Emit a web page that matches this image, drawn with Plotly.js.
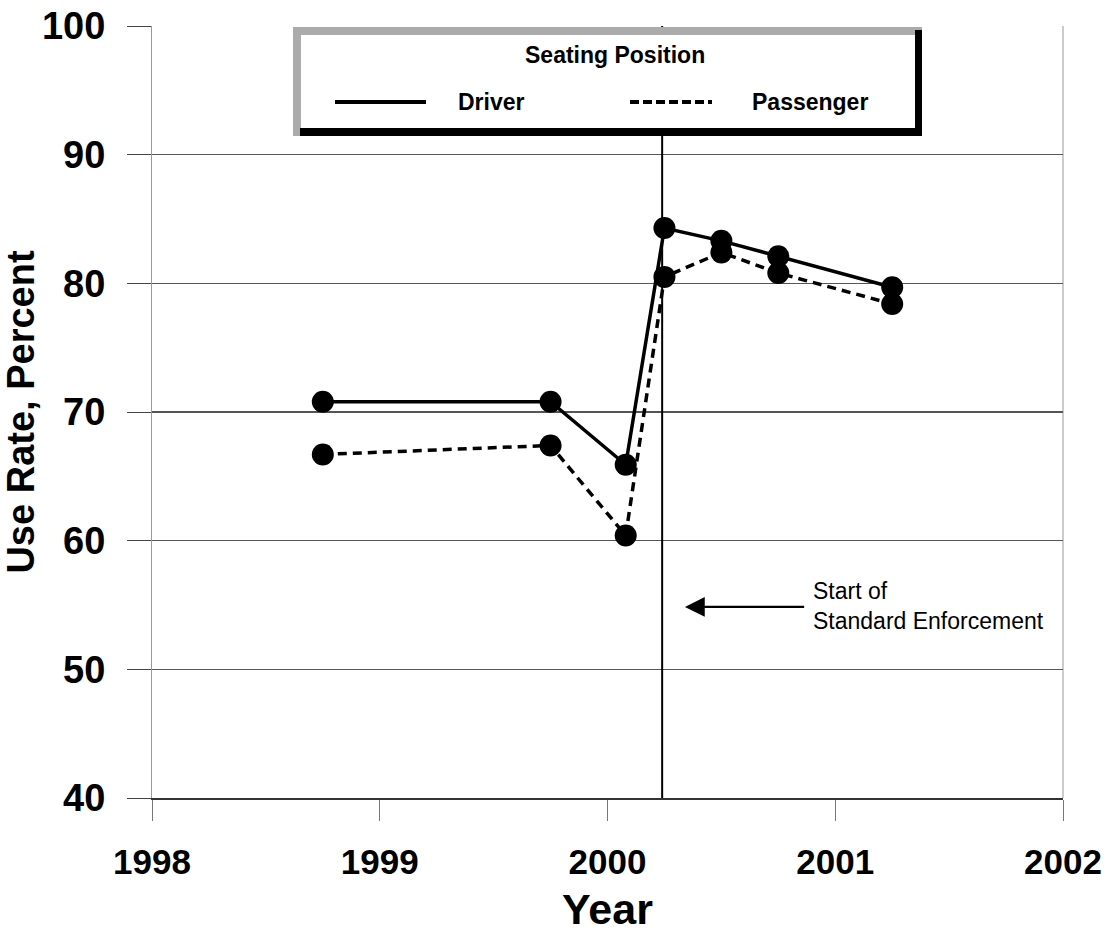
<!DOCTYPE html>
<html>
<head>
<meta charset="utf-8">
<script src="https://cdn.plot.ly/plotly-3.0.1.min.js"></script>
<style>html,body{margin:0;padding:0;background:#fff;}#chart{width:1108px;height:933px;}</style>
</head>
<body>
<div id="chart"></div>
<script>
// ---- data ----
var surveyDates = [1998.75, 1999.75, 2000.08, 2000.25, 2000.5, 2000.75, 2001.25];
var driverRates = [70.8, 70.8, 65.9, 84.3, 83.3, 82.1, 79.7];
var passengerRates = [66.7, 67.4, 60.4, 80.5, 82.4, 80.8, 78.4];
var xTickVals = [1998, 1999, 2000, 2001, 2002];
var xTickText = ['1998', '1999', '2000', '2001', '2002'];
var yTickVals = [40, 50, 60, 70, 80, 90, 100];
var yTickText = ['40', '50', '60', '70', '80', '90', '100'];
var enforcementStart = 2000.24;
var seriesNames = ['Driver', 'Passenger'];
var legendTitle = 'Seating Position';
var noteText = 'Start of<br>Standard Enforcement';

// ---- layout geometry (pixels -> paper) ----
var W = 1108, H = 933;
var mL = 152, mR = 45, mT = 26, mB = 135;
var pw = W - mL - mR, ph = H - mT - mB;
function px(x) { return (x - mL) / pw; }
function py(y) { return (H - mB - y) / ph; }

var FONT = 'Liberation Sans, Arial, sans-serif';

var traces = [
  {
    x: surveyDates, y: driverRates, name: seriesNames[0], type: 'scatter', mode: 'lines+markers',
    line: {color: '#000', width: 3.5},
    marker: {color: '#000', size: 22},
    showlegend: false
  },
  {
    x: surveyDates, y: passengerRates, name: seriesNames[1], type: 'scatter', mode: 'lines+markers',
    line: {color: '#000', width: 3.5, dash: '9px,6px'},
    marker: {color: '#000', size: 22},
    showlegend: false
  }
];

var shapes = [
  // right border of plot
  {type: 'line', xref: 'paper', yref: 'paper', x0: 1, x1: 1, y0: 0, y1: 1,
   line: {color: '#999', width: 1}, layer: 'below'},
  // enforcement start vertical line
  {type: 'line', xref: 'x', yref: 'y', x0: enforcementStart, x1: enforcementStart, y0: 40, y1: 100,
   line: {color: '#000', width: 2}, layer: 'above'},
  // legend box: gray frame
  {type: 'rect', xref: 'paper', yref: 'paper', x0: px(293), x1: px(922), y0: py(136), y1: py(27),
   fillcolor: '#ababab', line: {width: 0}, layer: 'above'},
  // black shadow: right band
  {type: 'rect', xref: 'paper', yref: 'paper', x0: px(915), x1: px(922), y0: py(136), y1: py(30),
   fillcolor: '#000', line: {width: 0}, layer: 'above'},
  // black shadow: bottom band
  {type: 'rect', xref: 'paper', yref: 'paper', x0: px(300), x1: px(922), y0: py(136), y1: py(128),
   fillcolor: '#000', line: {width: 0}, layer: 'above'},
  // white interior
  {type: 'rect', xref: 'paper', yref: 'paper', x0: px(301), x1: px(915), y0: py(128), y1: py(35),
   fillcolor: '#fff', line: {width: 0}, layer: 'above'},
  // legend sample lines
  {type: 'line', xref: 'paper', yref: 'paper', x0: px(335), x1: px(426), y0: py(102), y1: py(102),
   line: {color: '#000', width: 4}, layer: 'above'},
  {type: 'line', xref: 'paper', yref: 'paper', x0: px(630), x1: px(712), y0: py(102), y1: py(102),
   line: {color: '#000', width: 4, dash: '9px,4px'}, layer: 'above'}
];

var annotations = [
  {xref: 'paper', yref: 'paper', x: px(615), y: py(55), text: '<b>' + legendTitle + '</b>',
   showarrow: false, xanchor: 'center', yanchor: 'middle', font: {family: FONT, size: 23, color: '#000'}},
  {xref: 'paper', yref: 'paper', x: px(456), y: py(102), text: '<b>' + seriesNames[0] + '</b>',
   showarrow: false, xanchor: 'left', yanchor: 'middle', font: {family: FONT, size: 23, color: '#000'}},
  {xref: 'paper', yref: 'paper', x: px(750), y: py(102), text: '<b>' + seriesNames[1] + '</b>',
   showarrow: false, xanchor: 'left', yanchor: 'middle', font: {family: FONT, size: 23, color: '#000'}},
  // arrow
  {xref: 'x', yref: 'y', x: 2000.34, y: 54.85, axref: 'x', ayref: 'y', ax: 2000.87, ay: 54.85,
   text: '', showarrow: true, arrowhead: 2, arrowsize: 1.8, arrowwidth: 2.2, arrowcolor: '#000'},
  // note text
  {xref: 'x', yref: 'y', x: 2000.895, y: 54.95, text: noteText, showarrow: false,
   xanchor: 'left', yanchor: 'middle', align: 'left', font: {family: FONT, size: 23, color: '#000'}}
];

var layout = {
  width: W, height: H,
  margin: {l: mL, r: mR, t: mT, b: mB, pad: 0},
  paper_bgcolor: '#fff', plot_bgcolor: '#fff',
  showlegend: false,
  font: {family: FONT, color: '#000'},
  xaxis: {
    range: [1998, 2002], tickmode: 'array', tickvals: xTickVals, ticktext: xTickText,
    showgrid: false, zeroline: false,
    showline: true, linecolor: '#333', linewidth: 1.5,
    ticks: 'outside', ticklen: 21, tickcolor: '#777', tickwidth: 1,
    ticklabelstandoff: 11,
    tickfont: {family: FONT, size: 35, color: '#000', weight: 'bold'},
    title: {text: '<b>Year</b>', font: {family: FONT, size: 43, color: '#000'}, standoff: 14}
  },
  yaxis: {
    range: [40, 100], tickmode: 'array', tickvals: yTickVals, ticktext: yTickText,
    showgrid: true, gridcolor: '#555', gridwidth: 1.2, zeroline: false,
    showline: true, linecolor: '#999', linewidth: 1,
    ticks: 'outside', ticklen: 24, tickcolor: '#444', tickwidth: 1,
    ticklabelstandoff: 14,
    tickfont: {family: FONT, size: 38, color: '#000', weight: 'bold'},
    title: {text: '<b>Use Rate, Percent</b>', font: {family: FONT, size: 38, color: '#000'}, standoff: 8}
  },
  shapes: shapes,
  annotations: annotations
};

Plotly.newPlot('chart', traces, layout, {displayModeBar: false, staticPlot: true});
</script>
</body>
</html>
